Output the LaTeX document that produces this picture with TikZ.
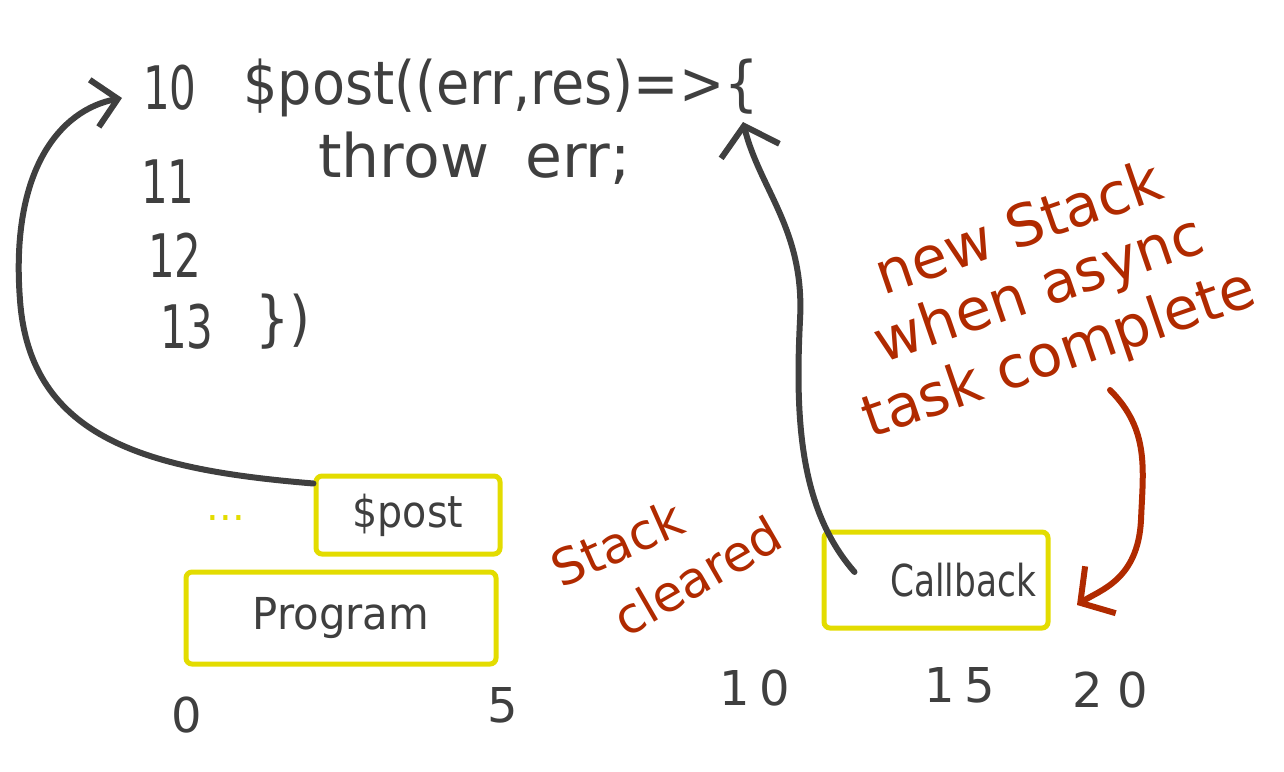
\documentclass[tikz,border=0pt]{standalone}
\usepackage{fontspec}
\usepackage{graphicx}
\setmainfont{DejaVu Sans}
\usetikzlibrary{arrows.meta}
\definecolor{ink}{HTML}{3F3F3F}
\definecolor{hl}{HTML}{E3DC00}
\definecolor{rd}{HTML}{B02A00}
\newcommand{\hw}[2]{\scalebox{#1}[1]{#2}}
\begin{document}
\begin{tikzpicture}[x=0.5pt,y=-0.5pt,
  code/.style={text=ink, font=\fontsize{30}{30}\selectfont, inner sep=0pt},
  num/.style={text=ink, font=\fontsize{30}{30}\selectfont, inner sep=0pt},
  axis/.style={text=ink, font=\fontsize{24}{24}\selectfont, inner sep=0pt},
  note/.style={text=rd, font=\fontsize{29}{29}\selectfont, inner sep=0pt, rotate=19},
  note2/.style={text=rd, font=\fontsize{25}{25}\selectfont, inner sep=0pt},
  stackbox/.style={draw=hl, line width=2.5pt, rounded corners=3pt, text=ink, font=\fontsize{22}{22}\selectfont, inner sep=0pt},
  link/.style={draw=ink, line width=3pt, line cap=round, line join=round},
  redlink/.style={draw=rd, line width=3pt, line cap=round, line join=round}
]
\useasboundingbox (0,0) rectangle (1284,771);

% code lines
\node[num] (l10) at (170,88) {\hw{0.7}{10}};
\node[num] (l11) at (168,182) {\hw{0.7}{11}};
\node[num] (l12) at (175,255) {\hw{0.7}{12}};
\node[num] (l13) at (187,327) {\hw{0.7}{13}};
\node[code, anchor=west] (c1) at (243,88) {\hw{0.9}{\$post((err,res)=>\{}};
\node[code, anchor=west] (c2) at (318,158) {\hw{1.0}{throw\hspace{0.6em}err;}};
\node[code, anchor=west] (c4) at (255,322) {\hw{0.9}{\})}};

% stack boxes
\node[stackbox, minimum width=92pt, minimum height=39pt] (post) at (408,515) {\hw{0.9}{\$post}};
\node[stackbox, minimum width=155pt, minimum height=46pt] (prog) at (341,618) {\hw{0.95}{Program}};
\node[stackbox, minimum width=112pt, minimum height=48pt, text width=100pt, align=right] (cb) at (936,580) {\hw{0.78}{Callback}};
\node[text=hl, font=\fontsize{20}{20}\selectfont, inner sep=0pt] (dots) at (226,518) {...};

% axis
\node[axis] (a0) at (187,715) {0};
\node[axis] (a5) at (503,705) {5};
\node[axis] (a10) at (755,688) {1\hspace{0.2em}0};
\node[axis] (a15) at (960,685) {1\hspace{0.2em}5};
\node[axis] (a20) at (1110,690) {2\hspace{0.3em}0};

% red notes
\node[note2, rotate=24] (sc1) at (617,543) {Stack};
\node[note2, rotate=30] (sc2) at (697,576) {cleared};
\node[note] (n1) at (1018,226) {new Stack};
\node[note] (n2) at (1040,292) {when async};
\node[note] (n3) at (1060,356) {task complete};

% connectors
\coordinate (t1) at (122,98);
\draw[link, -{Straight Barb[length=12pt,width=24pt]}] ([yshift=-5pt]post.north west)
  .. controls (150,470) and (30,440) .. (20,300)
  .. controls (10,170) and (60,110) .. (t1);
\coordinate (t2) at (743,122);
\draw[link, -{Straight Barb[length=13pt,width=30pt]}] ([xshift=16.5pt,yshift=4pt]cb.west)
  .. controls (800,510) and (795,420) .. (800,320)
  .. controls (805,230) and (760,190) .. (t2);
\coordinate (r0) at (1110,390);
\coordinate (r1) at (1077,605);
\draw[redlink, -{Straight Barb[length=12pt,width=28pt]}] (r0)
  .. controls (1150,430) and (1143,470) .. (1141,520)
  .. controls (1138,580) and (1100,590) .. (r1);
\end{tikzpicture}
\end{document}
